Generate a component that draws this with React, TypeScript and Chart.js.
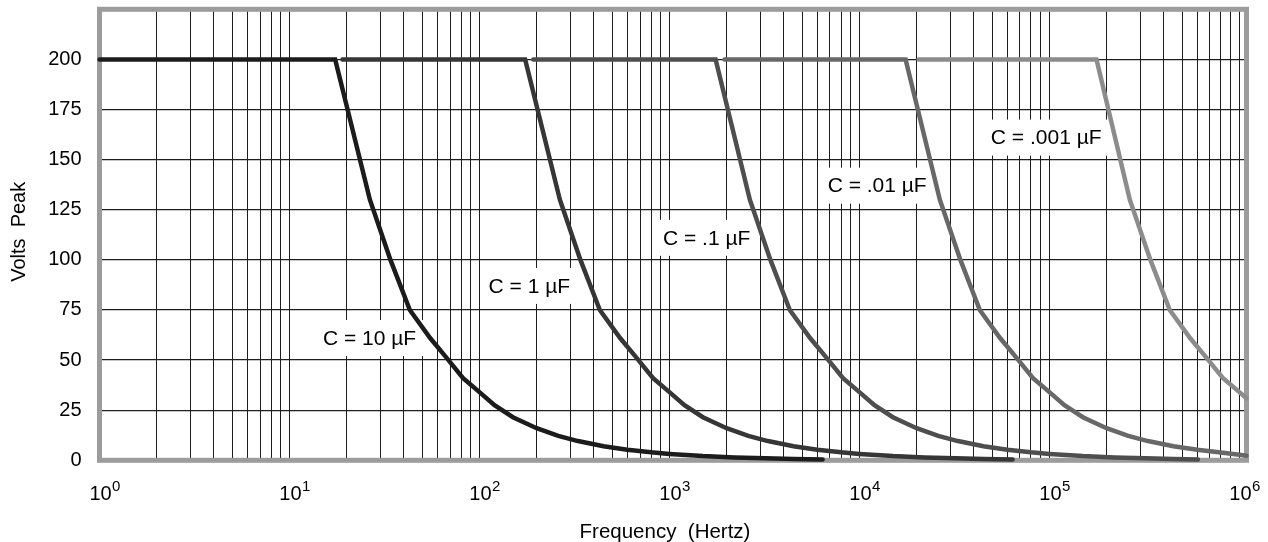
import React, { useEffect, useRef } from 'react';
import { Chart, registerables } from 'chart.js';

Chart.register(...registerables);

// ---------- data ----------
const seriesLabels = ['C = 10 µF', 'C = 1 µF', 'C = .1 µF', 'C = .01 µF', 'C = .001 µF'];
const seriesColors = ['#1c1c1c', '#363636', '#4e4e4e', '#686868', '#8c8c8c'];

const freq10uF = [1, 17.4, 26.5, 34, 43, 55, 66, 82, 100, 120, 150, 200, 260, 330, 450, 600, 800, 1000, 1500, 2200, 3200, 4500, 6400];
const volts10uF = [200, 200, 130, 100, 75, 61, 52, 41, 34, 27.5, 21.5, 16, 12.2, 9.6, 7, 5.3, 4, 3.2, 2.1, 1.45, 1.0, 0.7, 0.45];

const freq1uF = [19, 174, 265, 340, 430, 550, 660, 820, 1000, 1200, 1500, 2000, 2600, 3300, 4500, 6000, 8000, 10000, 15000, 22000, 32000, 45000, 64000];
const volts1uF = [200, 200, 130, 100, 75, 61, 52, 41, 34, 27.5, 21.5, 16, 12.2, 9.6, 7, 5.3, 4, 3.2, 2.1, 1.45, 1.0, 0.7, 0.45];

const freq01uF = [192, 1750, 2650, 3400, 4300, 5500, 6600, 8200, 10000, 12000, 15000, 20000, 26000, 33000, 45000, 60000, 80000, 100000, 150000, 220000, 320000, 450000, 605000];
const volts01uF = [200, 200, 130, 100, 75, 61, 52, 41, 34, 27.5, 21.5, 16, 12.2, 9.6, 7, 5.3, 4, 3.2, 2.1, 1.45, 1.0, 0.7, 0.45];

const freq001uF = [1950, 17500, 26500, 34000, 43000, 55000, 66000, 82000, 100000, 120000, 150000, 200000, 260000, 330000, 450000, 600000, 800000, 1000000, 1090000];
const volts001uF = [200, 200, 130, 100, 75, 61, 52, 41, 34, 27.5, 21.5, 16, 12.2, 9.6, 7, 5.3, 3.9, 2.8, 2.3];

const freq0001uF = [20500, 177000, 265000, 340000, 430000, 550000, 660000, 820000, 1000000, 1090000];
const volts0001uF = [200, 200, 130, 100, 75, 61, 52, 41, 34, 31];

const seriesFreqs = [freq10uF, freq1uF, freq01uF, freq001uF, freq0001uF];
const seriesVolts = [volts10uF, volts1uF, volts01uF, volts001uF, volts0001uF];

// curve label anchors (data coordinates)
const labelFreqs = [26.4, 183, 1570, 12400, 96200];
const labelVolts = [61, 87, 111, 137, 161];

// axes
const xMin = 1;
const xMax = 1090000;
const xDecadeExponents = [0, 1, 2, 3, 4, 5, 6];
const xMinorMultipliers = [1, 2, 3, 4, 5, 6, 7, 8, 9];
const yMin = 0;
const yMax = 225;
const yGridValues = [0, 25, 50, 75, 100, 125, 150, 175, 200, 225];
const yTickLabels = ['0', '25', '50', '75', '100', '125', '150', '175', '200', ''];
const xTitle = 'Frequency  (Hertz)';
const yTitle = 'Volts  Peak';

const FONT = '"Liberation Sans", Arial, Helvetica, sans-serif';

const decorPlugin = {
  id: 'decor',
  beforeDatasetsDraw(chart: any) {
    const { ctx, chartArea: a, scales } = chart;
    ctx.save();
    // curve labels on white boxes
    ctx.font = `21px ${FONT}`;
    ctx.textAlign = 'center';
    ctx.textBaseline = 'middle';
    seriesLabels.forEach((t, i) => {
      const px = scales.x.getPixelForValue(labelFreqs[i]);
      const py = scales.y.getPixelForValue(labelVolts[i]);
      const w = ctx.measureText(t).width;
      ctx.fillStyle = '#ffffff';
      ctx.fillRect(px - w / 2 - 7, py - 18, w + 14, 36);
      ctx.fillStyle = '#000000';
      ctx.fillText(t, px, py + 1);
    });
    // grey frame
    ctx.strokeStyle = '#9c9c9c';
    ctx.lineWidth = 5;
    ctx.strokeRect(a.left, a.top, a.right - a.left, a.bottom - a.top);
    ctx.restore();
  },
  afterDraw(chart: any) {
    const { ctx, scales, chartArea: a } = chart;
    ctx.save();
    ctx.fillStyle = '#000000';
    // decade tick labels with superscript exponent
    xDecadeExponents.forEach((e) => {
      const px = scales.x.getPixelForValue(Math.pow(10, e));
      ctx.font = `20px ${FONT}`;
      ctx.textAlign = 'center';
      ctx.textBaseline = 'alphabetic';
      ctx.fillText('10', px + 1, 500);
      const w = ctx.measureText('10').width;
      ctx.font = `15px ${FONT}`;
      ctx.textAlign = 'left';
      ctx.fillText(String(e), px + 1 + w / 2 + 0.5, 491);
    });
    // axis titles
    ctx.font = `20.5px ${FONT}`;
    ctx.textAlign = 'center';
    ctx.textBaseline = 'alphabetic';
    ctx.fillText(xTitle, (a.left + a.right) / 2 - 8, 538);
    ctx.translate(25, (a.top + a.bottom) / 2 - 3);
    ctx.rotate(-Math.PI / 2);
    ctx.font = `20px ${FONT}`;
    ctx.fillText(yTitle, 0, 0);
    ctx.restore();
  },
};

export default function App() {
  const ref = useRef<HTMLCanvasElement>(null);

  useEffect(() => {
    const datasets = seriesLabels.map((label, i) => ({
      label,
      data: seriesFreqs[i].map((f, j) => ({ x: f, y: seriesVolts[i][j] })),
      borderColor: seriesColors[i],
      backgroundColor: seriesColors[i],
      borderWidth: 4.5,
      pointRadius: 0,
      pointHoverRadius: 0,
      tension: 0,
      fill: false,
      borderCapStyle: 'round' as const,
      borderJoinStyle: 'miter' as const,
      clip: 8,
    }));

    const xGrid: number[] = [];
    xDecadeExponents.forEach((e) => {
      xMinorMultipliers.forEach((m) => {
        const v = m * Math.pow(10, e);
        if (v <= 1000000) xGrid.push(v);
      });
    });

    const chart = new Chart(ref.current as HTMLCanvasElement, {
      type: 'line',
      data: { datasets },
      plugins: [decorPlugin],
      options: {
        animation: false,
        responsive: false,
        devicePixelRatio: 1,
        events: [],
        layout: { padding: { top: 9.3, right: 21.5, left: 0, bottom: 0 } },
        plugins: {
          legend: { display: false },
          tooltip: { enabled: false },
          title: { display: false },
        },
        scales: {
          x: {
            type: 'logarithmic',
            min: xMin,
            max: xMax,
            afterBuildTicks: (scale: any) => {
              scale.ticks = xGrid.map((v) => ({ value: v }));
            },
            afterFit: (scale: any) => {
              scale.height = 81.7;
              scale.paddingLeft = 0;
              scale.paddingRight = 0;
            },
            ticks: { display: false },
            grid: { color: '#1e1e1e', lineWidth: 1, drawTicks: false },
            border: { display: false },
          },
          y: {
            type: 'linear',
            min: yMin,
            max: yMax,
            afterBuildTicks: (scale: any) => {
              scale.ticks = yGridValues.map((v) => ({ value: v }));
            },
            afterFit: (scale: any) => {
              scale.width = 99.5;
              scale.paddingTop = 0;
              scale.paddingBottom = 0;
            },
            ticks: {
              padding: 18,
              color: '#000000',
              font: { family: FONT, size: 20, lineHeight: 0.9 },
              callback: (v: any) => {
                const idx = yGridValues.indexOf(Number(v));
                return idx >= 0 ? yTickLabels[idx] : '';
              },
            },
            grid: { color: '#1e1e1e', lineWidth: 1.2, drawTicks: false },
            border: { display: false },
          },
        },
      } as any,
    });
    return () => chart.destroy();
  }, []);

  return (
    <div style={{ position: 'fixed', left: 0, top: 0, width: 1268, height: 542, background: '#ffffff' }}>
      <canvas ref={ref} width={1268} height={542} style={{ display: 'block', width: 1268, height: 542 }} />
    </div>
  );
}
